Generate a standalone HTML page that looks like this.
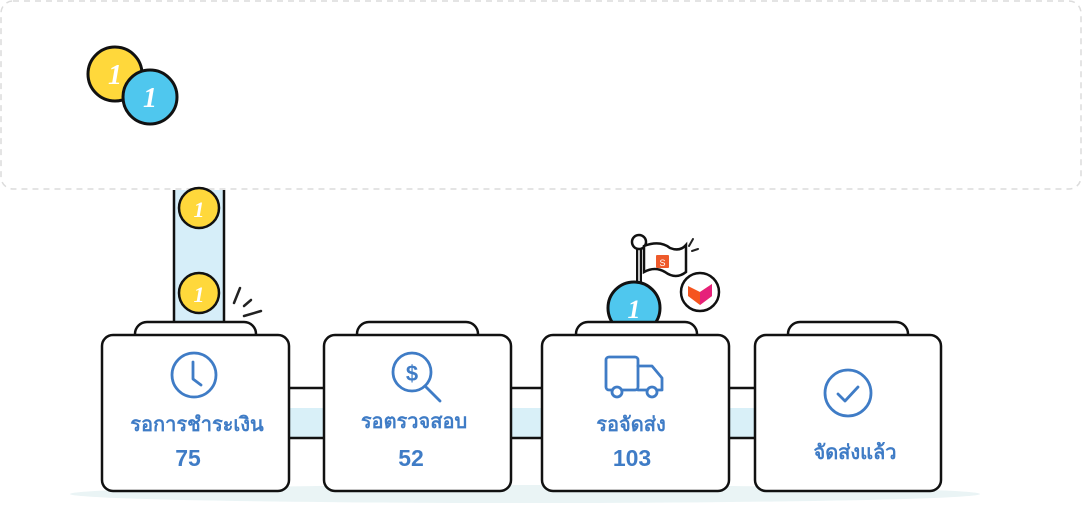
<!DOCTYPE html>
<html><head><meta charset="utf-8"><style>
html,body{margin:0;padding:0;background:#fff;width:1082px;height:510px;overflow:hidden}
svg{display:block}
text{font-family:"Liberation Sans","Noto Sans CJK SC",sans-serif;font-weight:bold;fill:#3f7cc6;text-anchor:middle}
</style></head><body>
<svg width="1082" height="510" viewBox="0 0 1082 510" xmlns="http://www.w3.org/2000/svg">
<rect x="1" y="1" width="1080" height="188" rx="12" fill="#fff" stroke="#dcdcdc" stroke-width="1.5" stroke-dasharray="6,5"/>
<circle cx="115" cy="74" r="27" fill="#ffd83b" stroke="#111" stroke-width="3"/>
<text x="115" y="84" style="fill:#fff;font-size:28px;font-family:'Liberation Serif',serif;font-style:italic">1</text>
<circle cx="150" cy="97" r="27" fill="#4fc7ee" stroke="#111" stroke-width="3"/>
<text x="150" y="107" style="fill:#fff;font-size:28px;font-family:'Liberation Serif',serif;font-style:italic">1</text>
<ellipse cx="525" cy="494" rx="455" ry="9" fill="#eaf4f5"/>
<g>
<rect x="285" y="388" width="472" height="50" fill="#fff"/>
<rect x="285" y="408" width="472" height="30" fill="#d9f0f8"/>
<line x1="285" y1="388" x2="757" y2="388" stroke="#111" stroke-width="2.5"/>
<line x1="285" y1="438" x2="757" y2="438" stroke="#111" stroke-width="2.5"/>
</g>
<rect x="174" y="190" width="50" height="140" fill="#d6eef9"/>
<line x1="174" y1="190" x2="174" y2="330" stroke="#111" stroke-width="2.5"/>
<line x1="224" y1="190" x2="224" y2="330" stroke="#111" stroke-width="2.5"/>
<circle cx="199" cy="208" r="20" fill="#ffd83b" stroke="#111" stroke-width="2.5"/>
<text x="199" y="217" style="fill:#fff;font-size:22px;font-family:'Liberation Serif',serif;font-style:italic">1</text>
<circle cx="199" cy="293" r="20" fill="#ffd83b" stroke="#111" stroke-width="2.5"/>
<text x="199" y="302" style="fill:#fff;font-size:22px;font-family:'Liberation Serif',serif;font-style:italic">1</text>
<g stroke="#222" stroke-width="2.5" stroke-linecap="round">
<line x1="234" y1="303" x2="240" y2="288"/><line x1="244" y1="306" x2="251" y2="300"/><line x1="244" y1="316" x2="261" y2="311"/>
</g>
<line x1="639" y1="245" x2="639" y2="290" stroke="#111" stroke-width="6"/>
<line x1="639" y1="245" x2="639" y2="290" stroke="#fff" stroke-width="1.5"/>
<circle cx="639" cy="242" r="7" fill="#fff" stroke="#111" stroke-width="2.5"/>
<path d="M644 246 Q660 240 670 248 Q680 252 686 245 L686 272 Q676 280 665 272 Q655 266 644 272 Z" fill="#fff" stroke="#111" stroke-width="2.5"/>
<rect x="656" y="255" width="13" height="13" rx="1" fill="#ee5a2b"/>
<text x="662.5" y="266" style="fill:#fff;font-size:9px;font-weight:normal">S</text>
<g stroke="#222" stroke-width="2" stroke-linecap="round"><line x1="689" y1="246" x2="693" y2="239"/><line x1="692" y1="251" x2="698" y2="249"/></g>
<circle cx="700" cy="292" r="19" fill="#fff" stroke="#111" stroke-width="2.5"/>
<path d="M688 286 L700 292 L712 284 L712 296 L700 305 L688 296 Z" fill="#f5541e"/>
<path d="M700 292 L712 284 L712 296 L700 305 Z" fill="#e6207a"/>
<circle cx="634" cy="308" r="26" fill="#4fc7ee" stroke="#111" stroke-width="3"/>
<text x="634" y="318" style="fill:#fff;font-size:26px;font-family:'Liberation Serif',serif;font-style:italic">1</text>
<g fill="#fff" stroke="#111" stroke-width="2.5">
<rect x="135" y="322" width="121" height="30" rx="12"/>
<rect x="357" y="322" width="121" height="30" rx="12"/>
<rect x="576" y="322" width="121" height="30" rx="12"/>
<rect x="788" y="322" width="120" height="30" rx="12"/>
<rect x="102" y="335" width="187" height="156" rx="11"/>
<rect x="324" y="335" width="187" height="156" rx="11"/>
<rect x="542" y="335" width="187" height="156" rx="11"/>
<rect x="755" y="335" width="186" height="156" rx="11"/>
</g>
<g fill="none" stroke="#3f7cc6" stroke-width="2.8" stroke-linecap="round" stroke-linejoin="round">
<circle cx="194" cy="375" r="22"/><polyline points="193,362 193,379 201,385"/>
<circle cx="412" cy="372" r="19"/><line x1="425" y1="386" x2="440" y2="401"/>
<rect x="606" y="357" width="32" height="33" rx="3"/><path d="M638 366 L652 366 L662 378 L662 390 L638 390"/>
<circle cx="848" cy="393" r="23"/><polyline points="838,394 845,401 858,387"/>
</g>
<g fill="#fff" stroke="#3f7cc6" stroke-width="2.8"><circle cx="617" cy="392" r="5"/><circle cx="652" cy="392" r="5"/></g>
<text x="412" y="381" style="font-size:22px">$</text>
<text x="197" y="431" style="font-size:20px">รอการชำระเงิน</text>
<text x="188" y="466" style="font-size:23px">75</text>
<text x="414" y="428" style="font-size:20px">รอตรวจสอบ</text>
<text x="411" y="466" style="font-size:23px">52</text>
<text x="631" y="431" style="font-size:20px">รอจัดส่ง</text>
<text x="632" y="466" style="font-size:23px">103</text>
<text x="855" y="459" style="font-size:20px">จัดส่งแล้ว</text>
</svg>
</body></html>
